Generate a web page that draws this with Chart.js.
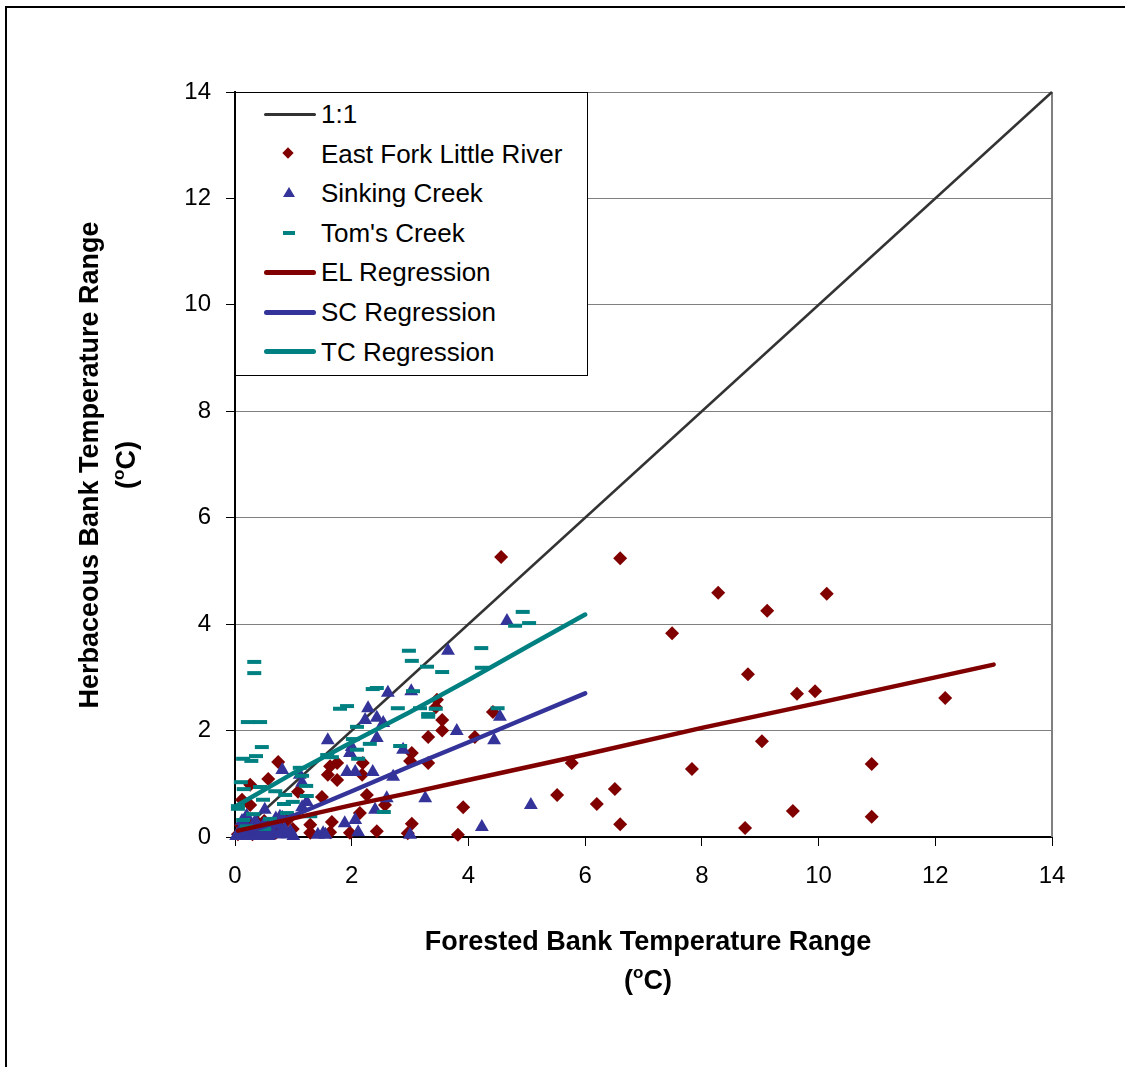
<!DOCTYPE html>
<html>
<head>
<meta charset="utf-8">
<script src="https://cdn.jsdelivr.net/npm/chart.js"></script>
<style>
body { margin:0; background:#fff; }
#wrap { position:relative; width:1125px; height:1067px; overflow:hidden; }
#frame { position:absolute; left:5px; top:6px; width:2000px; height:2000px; border-left:2px solid #000; border-top:2px solid #000; }
#myChart { position:absolute; left:0; top:0; }
#legend { position:absolute; left:235px; top:92px; width:351px; height:282px; border:1px solid #000; background:#fff;
  font-family:"Liberation Sans", Arial, sans-serif; font-size:26px; color:#000; }
#legend .row { position:absolute; left:0; height:40px; width:100%; }
#legend .txt { position:absolute; left:85px; top:0; line-height:40px; white-space:nowrap; }
#legend .sym { position:absolute; }
</style>
</head>
<body>
<div id="wrap">
  <div id="frame"></div>
  <canvas id="myChart" width="1125" height="1067"></canvas>
  <div id="legend"></div>
</div>
<script>
// 1:1 line
const oneX = [0, 14];
const oneY = [0, 14];

// East Fork Little River
const elX = [4.56, 6.6, 8.28, 10.14, 9.12, 7.49, 8.79, 9.63, 9.94, 12.17, 9.03, 7.83, 10.91, 5.77, 5.52, 6.2, 6.51, 6.6, 8.74, 9.56, 10.91, 3.91, 3.82, 4.42, 4.11,
  3.46, 3.44, 3.55, 3.55, 3.31, 3.31, 3.03, 3.0, 3.03, 2.96, 2.43, 2.57, 2.26, 2.14, 2.18, 2.19, 1.63, 1.75, 1.59, 1.75, 1.49, 1.66, 1.63, 1.97, 1.29, 1.29, 0.99, 1.08,
  0.74, 0.57, 0.26, 0.12, 0.26, 0.17, 0.57, 0.4, 0.9, 0.05, 0.3, 0.7, 0.5, 0.2, 0.1, 0.8];
const elY = [5.26, 5.24, 4.59, 4.57, 4.25, 3.83, 3.06, 2.69, 2.74, 2.61, 1.8, 1.28, 1.37, 1.39, 0.79, 0.62, 0.9, 0.24, 0.17, 0.49, 0.38, 0.56, 0.04, 2.35, 1.88,
  2.58, 2.44, 2.2, 2.0, 1.88, 1.39, 1.58, 1.43, 0.25, 0.07, 0.11, 0.6, 0.79, 0.45, 1.17, 1.39, 1.33, 1.39, 1.17, 1.07, 0.75, 0.28, 0.09, 0.08, 0.23, 0.08, 0.15, 0.85,
  1.41, 1.09, 0.98, 0.7, 0.6, 0.13, 0.17, 0.26, 0.32, 0.05, 0.05, 0.08, 0.3, 0.3, 0.22, 0.15];

// Sinking Creek
const scX = [4.66, 3.65, 2.62, 3.02, 4.44, 4.54, 3.8, 5.07, 4.23, 3.26, 3.0, 2.88,
  2.28, 2.23, 2.43, 2.54, 2.43, 1.59, 2.0, 1.97, 1.92, 2.06, 2.36, 2.71, 2.6, 2.4, 2.06, 1.88, 2.11, 1.51,
  0.81, 1.11, 1.15, 1.23, 0.77, 0.51, 0.74, 1.42, 1.55, 0.9, 1.15, 0.81,
  0.05, 0.1, 0.15, 0.2, 0.25, 0.3, 0.35, 0.4, 0.45, 0.55, 0.6, 0.65, 0.7, 0.8, 0.95, 0.2, 0.12, 0.5, 1.0, 0.85,
  0.02, 0.08, 0.28, 0.38, 0.48, 0.58, 0.75, 0.68, 0.32, 0.18];
const scY = [4.06, 3.5, 2.71, 2.74, 1.82, 2.26, 1.99, 0.6, 0.19, 0.73, 0.04, 1.64,
  2.42, 2.2, 2.24, 2.14, 1.86, 1.82, 1.69, 1.58, 1.22, 1.22, 1.22, 1.13, 0.73, 0.51, 0.32, 0.26, 0.09, 0.07,
  1.26, 1.17, 1.02, 0.66, 0.38, 0.51, 0.23, 0.04, 0.04, 0.05, 0.56, 0.36,
  0.05, 0.15, 0.05, 0.2, 0.08, 0.15, 0.3, 0.05, 0.12, 0.05, 0.2, 0.1, 0.35, 0.05, 0.1, 0.4, 0.3, 0.25, 0.02, 0.15,
  0.02, 0.02, 0.02, 0.2, 0.02, 0.02, 0.05, 0.25, 0.1, 0.1];

// Tom's Creek
const tcX = [4.93, 5.04, 4.8, 4.22, 4.23, 2.98, 3.03, 3.29, 3.55, 3.05, 4.5, 3.17, 3.44, 3.31, 3.31, 2.79,
  2.43, 2.36, 1.8, 1.92, 2.09, 2.02, 2.31, 2.83, 1.58, 1.66, 2.09, 2.11, 1.11, 1.15, 2.55,
  0.33, 0.33, 0.22, 0.43, 0.46, 0.36, 0.14, 0.28,
  0.1, 0.15, 0.43, 0.69, 0.48, 0.86, 1.22, 1.23, 0.05, 0.05, 0.84, 0.99, 0.31, 0.14, 0.6, 0.89, 1.29, 0.2, 0.5];
const tcY = [4.23, 4.02, 3.97, 3.55, 3.18, 3.5, 3.31, 3.2, 3.1, 2.74, 2.42, 2.42, 2.41, 2.31, 2.26, 2.42,
  2.8, 2.78, 2.41, 2.46, 2.07, 1.84, 1.75, 1.71, 1.54, 1.5, 1.64, 1.47, 1.3, 1.15, 0.47,
  3.29, 3.08, 2.16, 2.16, 1.69, 1.52, 1.47, 1.43,
  1.03, 0.9, 0.94, 0.86, 0.7, 0.79, 0.96, 0.77, 0.58, 0.53, 0.62, 0.66, 0.43, 0.32, 0.34, 0.45, 0.39, 0.2, 0.15];

// regression lines
const elRegX = [0.05, 1, 2, 3, 4, 6, 8, 10, 12, 13];
const elRegY = [0.12, 0.35, 0.6, 0.83, 1.07, 1.55, 2.05, 2.52, 3.0, 3.24];
const scRegX = [0.05, 1, 2, 3, 4, 5, 6];
const scRegY = [0.02, 0.4, 0.86, 1.33, 1.78, 2.24, 2.7];
const tcRegX = [0.05, 1, 2, 3, 4, 5, 6];
const tcRegY = [0.6, 1.2, 1.78, 2.35, 2.95, 3.57, 4.18];

const xTicks = [0, 2, 4, 6, 8, 10, 12, 14];

function pts(xs, ys) {
  return xs.map((x, i) => ({ x: x, y: ys[i] }));
}

const FONT = '"Liberation Sans", Arial, sans-serif';
Chart.defaults.font.family = FONT;

// draws "(oC)" with a raised small o
function degC(ctx, cx, cy) {
  ctx.textAlign = 'left';
  ctx.font = 'bold 27px ' + FONT;
  const w1 = ctx.measureText('(').width;
  const w3 = ctx.measureText('C)').width;
  ctx.font = 'bold 17px ' + FONT;
  const w2 = ctx.measureText('o').width;
  let x = cx - (w1 + w2 + w3) / 2;
  ctx.font = 'bold 27px ' + FONT;
  ctx.fillText('(', x, cy);
  x += w1;
  ctx.font = 'bold 17px ' + FONT;
  ctx.fillText('o', x, cy - 9);
  x += w2;
  ctx.font = 'bold 27px ' + FONT;
  ctx.fillText('C)', x, cy);
}

const extras = {
  id: 'extras',
  beforeDatasetsDraw(chart) {
    const ctx = chart.ctx, a = chart.chartArea;
    ctx.save();
    ctx.strokeStyle = '#808080';
    ctx.lineWidth = 2;
    ctx.beginPath();
    ctx.moveTo(a.right, a.top);
    ctx.lineTo(a.right, a.bottom);
    ctx.stroke();
    ctx.restore();
  },
  afterDraw(chart) {
    const ctx = chart.ctx;
    ctx.save();
    ctx.fillStyle = '#000';
    ctx.textBaseline = 'middle';
    ctx.font = 'bold 27px ' + FONT;
    ctx.textAlign = 'center';
    ctx.fillText('Forested Bank Temperature Range', 648, 943);
    degC(ctx, 648, 982);
    ctx.translate(91, 465);
    ctx.rotate(-Math.PI / 2);
    ctx.font = 'bold 27px ' + FONT;
    ctx.textAlign = 'center';
    ctx.fillText('Herbaceous Bank Temperature Range', 0, 0);
    degC(ctx, 0, 37);
    ctx.restore();
  }
};

const ctx = document.getElementById('myChart');

const chart = new Chart(ctx, {
  type: 'scatter',
  data: {
    datasets: [
      { label: '1:1', data: pts(oneX, oneY), showLine: true, borderColor: '#333333', borderWidth: 2.5,
        pointRadius: 0, order: 5, clip: false },
      { label: 'East Fork Little River', data: pts(elX, elY), pointStyle: 'rectRot', pointRadius: 7,
        backgroundColor: '#800000', borderColor: '#800000', borderWidth: 0, order: 4, clip: false },
      { label: 'Sinking Creek', data: pts(scX, scY), pointStyle: 'triangle', pointRadius: 8,
        backgroundColor: '#333399', borderColor: '#333399', borderWidth: 0, order: 3, clip: false },
      { label: "Tom's Creek", data: pts(tcX, tcY), pointStyle: 'line', pointRadius: 7,
        backgroundColor: '#008080', borderColor: '#008080', borderWidth: 4, order: 2, clip: false },
      { label: 'EL Regression', data: pts(elRegX, elRegY), showLine: true, borderColor: '#800000', borderWidth: 4.5,
        borderCapStyle: 'round', pointRadius: 0, order: 1 },
      { label: 'SC Regression', data: pts(scRegX, scRegY), showLine: true, borderColor: '#333399', borderWidth: 4.5,
        borderCapStyle: 'round', pointRadius: 0, order: 1 },
      { label: 'TC Regression', data: pts(tcRegX, tcRegY), showLine: true, borderColor: '#008080', borderWidth: 4.5,
        borderCapStyle: 'round', pointRadius: 0, order: 1 }
    ]
  },
  options: {
    responsive: false,
    devicePixelRatio: 1,
    animation: false,
    layout: { padding: { top: 92, right: 73, bottom: 0, left: 0 } },
    plugins: { legend: { display: false }, tooltip: { enabled: false } },
    scales: {
      x: {
        type: 'linear', min: 0, max: 14,
        afterBuildTicks(s) { s.ticks = xTicks.map(v => ({ value: v })); },
        ticks: { color: '#000', font: { size: 24 }, padding: 16, maxRotation: 0 },
        grid: { drawOnChartArea: false, drawTicks: true, tickLength: 9, tickColor: '#000' },
        border: { color: '#000', width: 2 },
        afterFit(s) { s.height = 230; }
      },
      y: {
        type: 'linear', min: 0, max: 14,
        ticks: { stepSize: 2, color: '#000', font: { size: 24 }, padding: 15 },
        grid: { color: '#808080', tickColor: '#000', tickLength: 9, lineWidth: 1 },
        border: { color: '#000', width: 2 },
        afterFit(s) { s.width = 235; }
      }
    }
  },
  plugins: [extras]
});

// legend box built from the datasets
const legend = document.getElementById('legend');
chart.data.datasets.forEach((ds, i) => {
  const row = document.createElement('div');
  row.className = 'row';
  row.style.top = (1 + i * 39.6) + 'px';
  const sym = document.createElement('div');
  sym.className = 'sym';
  if (ds.showLine) {
    const h = ds.label === '1:1' ? 3 : 5;
    sym.style.left = '28px';
    sym.style.width = '52px';
    sym.style.height = h + 'px';
    sym.style.top = (20 - h / 2) + 'px';
    sym.style.background = ds.borderColor;
    sym.style.borderRadius = (h / 2) + 'px';
  } else if (ds.pointStyle === 'rectRot') {
    sym.style.left = '48px';
    sym.style.top = '15px';
    sym.style.width = '8px';
    sym.style.height = '8px';
    sym.style.background = ds.backgroundColor;
    sym.style.transform = 'rotate(45deg)';
  } else if (ds.pointStyle === 'triangle') {
    sym.style.left = '47px';
    sym.style.top = '14px';
    sym.style.width = '0';
    sym.style.height = '0';
    sym.style.borderLeft = '6px solid transparent';
    sym.style.borderRight = '6px solid transparent';
    sym.style.borderBottom = '10px solid ' + ds.backgroundColor;
  } else {
    sym.style.left = '47px';
    sym.style.top = '18px';
    sym.style.width = '12px';
    sym.style.height = '4px';
    sym.style.background = ds.borderColor;
  }
  const txt = document.createElement('div');
  txt.className = 'txt';
  txt.textContent = ds.label;
  row.appendChild(sym);
  row.appendChild(txt);
  legend.appendChild(row);
});
</script>
</body>
</html>
